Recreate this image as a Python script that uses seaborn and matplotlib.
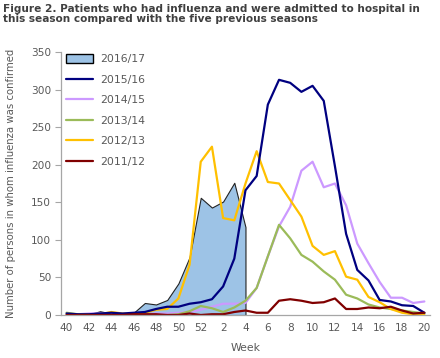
import numpy as np
import pandas as pd
import seaborn as sns
import matplotlib.pyplot as plt
from matplotlib.patches import Patch
from matplotlib.lines import Line2D

# weeks of the season (40..52, then 1..20)
weeks = list(range(40, 53)) + list(range(1, 21))

s2016 = [1, 0, 1, 5, 2, 1, 3, 16, 14, 20, 42, 77, 156, 143, 151, 176, 117]
s2015 = [2, 1, 1, 2, 3, 2, 3, 4, 8, 11, 11, 15, 17, 21, 38, 75, 166, 185, 280, 313,
         309, 297, 305, 285, 198, 108, 60, 46, 20, 18, 13, 12, 3]
s2014 = [0, 1, 2, 2, 1, 1, 1, 1, 2, 2, 3, 4, 7, 11, 15, 15, 16, 36, 78, 118,
         144, 192, 204, 170, 175, 146, 95, 69, 44, 23, 23, 16, 18]
s2013 = [3, 1, 0, 0, 0, 0, 0, 0, 0, 0, 1, 5, 12, 9, 4, 10, 19, 36, 78, 120,
         102, 80, 71, 58, 47, 27, 22, 14, 10, 8, 6, 4, 2]
s2012 = [0, 0, 1, 1, 4, 2, 1, 3, 7, 8, 22, 67, 204, 224, 129, 126, 175, 218, 177, 175,
         153, 131, 92, 80, 85, 51, 47, 24, 17, 8, 3, 1, 0]
s2011 = [0, 0, 0, 0, 0, 0, 1, 1, 1, 0, 0, 2, 0, 1, 1, 4, 6, 3, 3, 19,
         21, 19, 16, 17, 22, 8, 8, 10, 9, 11, 6, 2, 3]

fill_col = "#9DC3E6"
colors = {"2015/16": "#000080", "2014/15": "#CC99FF", "2013/14": "#9BBB59",
          "2012/13": "#FFC000", "2011/12": "#800000"}

sns.set_style("white")
plt.rcParams["font.family"] = ["DejaVu Sans"]

fig = plt.figure(figsize=(4.4, 3.58), dpi=100)
ax = fig.add_axes([0.1386, 0.1201, 0.8386, 0.7346])

x = np.arange(len(weeks))
ax.fill_between(x[:len(s2016)], s2016, 0, facecolor=fill_col, edgecolor="#222222",
                linewidth=0.8, zorder=1)

series = {"2014/15": s2014, "2013/14": s2013, "2012/13": s2012,
          "2015/16": s2015, "2011/12": s2011}
for name, vals in series.items():
    df = pd.DataFrame({"idx": x, "n": vals})
    sns.lineplot(data=df, x="idx", y="n", ax=ax, color=colors[name], linewidth=1.6,
                 zorder=2)

ax.set_xlim(-0.5, len(weeks) - 0.5)
ax.set_ylim(0, 350)
ax.set_yticks(range(0, 351, 50))
ax.set_xticks(x[::2])
ax.set_xticklabels([str(w) for w in weeks[::2]])
ax.set_xticks(np.arange(-0.5, len(weeks), 1), minor=True)

grey = "#A6A6A6"
txt = "#595959"
for side in ["top", "right"]:
    ax.spines[side].set_visible(False)
for side in ["left", "bottom"]:
    ax.spines[side].set_color(grey)
    ax.spines[side].set_linewidth(0.9)
ax.tick_params(axis="x", which="major", length=0, pad=6, labelsize=7.6, labelcolor=txt)
ax.tick_params(axis="x", which="minor", length=4, color=grey, direction="out")
ax.tick_params(axis="y", length=4, color=grey, direction="out", labelsize=7.6,
               labelcolor=txt, left=True, pad=3)

ax.set_xlabel("Week", fontsize=7.8, color=txt, labelpad=7)
ax.set_ylabel("Number of persons in whom influenza was confirmed", fontsize=7.3,
              color=txt, labelpad=11)

handles = [Patch(facecolor=fill_col, edgecolor="black", linewidth=1.0)]
labels = ["2016/17"]
for name in ["2015/16", "2014/15", "2013/14", "2012/13", "2011/12"]:
    handles.append(Line2D([], [], color=colors[name], linewidth=1.6))
    labels.append(name)
leg = ax.legend(handles, labels, loc="upper left", bbox_to_anchor=(-0.012, 1.03),
                frameon=False, fontsize=7.8, handlelength=2.5, handleheight=0.9,
                labelspacing=0.95, handletextpad=0.6)
for t in leg.get_texts():
    t.set_color(txt)

fig.text(0.007, 0.99, "Figure 2. Patients who had influenza and were admitted to hospital in\n"
         "this season compared with the five previous seasons",
         fontsize=7.6, fontweight="bold", color="#404040", va="top", ha="left",
         linespacing=1.05)

fig.savefig("out.png", dpi=100)
